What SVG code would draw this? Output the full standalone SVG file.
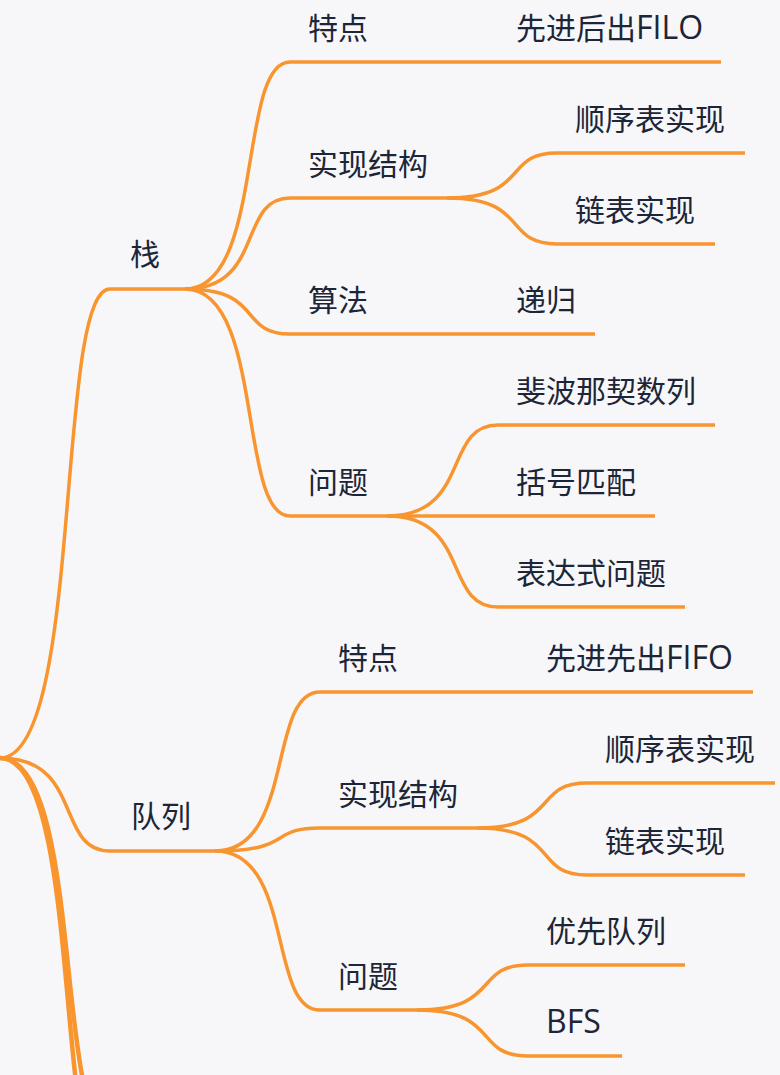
<svg xmlns="http://www.w3.org/2000/svg" width="780" height="1075" viewBox="0 0 780 1075">
<style>
.bg{fill:#f7f7f9}
.ln{fill:none;stroke:#f8952f;stroke-width:3.5;stroke-linecap:butt}
.lnb{fill:none;stroke:#f8952f;stroke-width:4.5}
.t{font-family:"Open Sans","Noto Sans CJK SC",sans-serif;font-size:30px;fill:#1c2638}
.lat{font-size:32px}
</style>
<rect class="bg" x="0" y="0" width="780" height="1075"/>
<g id="connectors">
<path class="ln" d="M-2,758 L0,758 C83.6,758 55,289 110,289"/>
<path class="ln" d="M-2,758 L0,758 C83.6,758 55,851 110,851"/>
<path class="lnb" d="M-2,758 L0,758 C83.6,758 55,1130 110,1130"/>
<path class="lnb" d="M-2,758 L0,758 C83.6,758 55,1194 110,1194"/>
<path class="ln" d="M185,289 C264.8,289 237.5,62 290,62"/>
<path class="ln" d="M185,289 C264.8,289 237.5,198 290,198"/>
<path class="ln" d="M185,289 C264.8,289 237.5,334 290,334"/>
<path class="ln" d="M185,289 C264.8,289 237.5,516 290,516"/>
<path class="ln" d="M387,62 L498,62"/>
<path class="ln" d="M447,198 C530.6,198 502,153 557,153"/>
<path class="ln" d="M447,198 C530.6,198 502,244 557,244"/>
<path class="ln" d="M387,334 L498,334"/>
<path class="ln" d="M387,516 C471.4,516 442.5,425 498,425"/>
<path class="ln" d="M387,516 L498,516"/>
<path class="ln" d="M387,516 C471.4,516 442.5,607 498,607"/>
<path class="ln" d="M215,851 C294.8,851 267.5,692 320,692"/>
<path class="ln" d="M215,851 C294.8,851 267.5,828 320,828"/>
<path class="ln" d="M215,851 C294.8,851 267.5,1010 320,1010"/>
<path class="ln" d="M417,692 L528,692"/>
<path class="ln" d="M477,828 C560.6,828 532,783 587,783"/>
<path class="ln" d="M477,828 C560.6,828 532,875 587,875"/>
<path class="ln" d="M417,1010 C501.4,1010 472.5,965 528,965"/>
<path class="ln" d="M417,1010 C501.4,1010 472.5,1056 528,1056"/>
</g>
<g id="n-stack"><path class="ln" d="M110,289 H185"/><text class="t" x="130" y="265">栈</text></g>
<g id="n-stack-feature"><path class="ln" d="M290,62 H387"/><text class="t" x="308" y="39">特点</text></g>
<g id="n-stack-filo"><path class="ln" d="M498,62 H721"/><text class="t" x="516" y="39">先进后出<tspan class="lat">FILO</tspan></text></g>
<g id="n-stack-impl"><path class="ln" d="M290,198 H447"/><text class="t" x="308" y="175">实现结构</text></g>
<g id="n-stack-seq"><path class="ln" d="M557,153 H745"/><text class="t" x="575" y="130">顺序表实现</text></g>
<g id="n-stack-link"><path class="ln" d="M557,244 H715"/><text class="t" x="575" y="221">链表实现</text></g>
<g id="n-stack-algo"><path class="ln" d="M290,334 H387"/><text class="t" x="308" y="311">算法</text></g>
<g id="n-stack-rec"><path class="ln" d="M498,334 H595"/><text class="t" x="516" y="311">递归</text></g>
<g id="n-stack-prob"><path class="ln" d="M290,516 H387"/><text class="t" x="308" y="493">问题</text></g>
<g id="n-stack-fib"><path class="ln" d="M498,425 H715"/><text class="t" x="516" y="402">斐波那契数列</text></g>
<g id="n-stack-bracket"><path class="ln" d="M498,516 H655"/><text class="t" x="516" y="493">括号匹配</text></g>
<g id="n-stack-expr"><path class="ln" d="M498,607 H685"/><text class="t" x="516" y="584">表达式问题</text></g>
<g id="n-queue"><path class="ln" d="M110,851 H215"/><text class="t" x="131" y="827">队列</text></g>
<g id="n-queue-feature"><path class="ln" d="M320,692 H417"/><text class="t" x="338" y="669">特点</text></g>
<g id="n-queue-fifo"><path class="ln" d="M528,692 H753"/><text class="t" x="546" y="669">先进先出<tspan class="lat">FIFO</tspan></text></g>
<g id="n-queue-impl"><path class="ln" d="M320,828 H477"/><text class="t" x="338" y="805">实现结构</text></g>
<g id="n-queue-seq"><path class="ln" d="M587,783 H775"/><text class="t" x="605" y="760">顺序表实现</text></g>
<g id="n-queue-link"><path class="ln" d="M587,875 H745"/><text class="t" x="605" y="852">链表实现</text></g>
<g id="n-queue-prob"><path class="ln" d="M320,1010 H417"/><text class="t" x="338" y="987">问题</text></g>
<g id="n-queue-prio"><path class="ln" d="M528,965 H685"/><text class="t" x="546" y="942">优先队列</text></g>
<g id="n-queue-bfs"><path class="ln" d="M528,1056 H622"/><text class="t lat" x="546" y="1033">BFS</text></g>
</svg>
